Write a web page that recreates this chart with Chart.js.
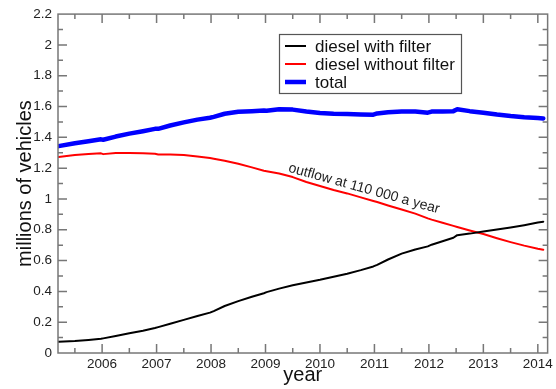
<!DOCTYPE html>
<html>
<head>
<meta charset="utf-8">
<script src="https://cdn.jsdelivr.net/npm/chart.js@4/dist/chart.umd.min.js"></script>
<style>
  html, body { margin: 0; padding: 0; background: #fff; }
  #wrap { width: 556px; height: 389px; }
</style>
</head>
<body>
<div id="wrap"><canvas id="chart" width="556" height="389"></canvas></div>
<script>
// time axis, fractional years
const years = [2005.2, 2005.5, 2005.75, 2005.98, 2006.02, 2006.25, 2006.5, 2006.75, 2006.97, 2007.03,
    2007.25, 2007.5, 2007.75, 2007.98, 2008.05, 2008.25, 2008.5, 2008.75, 2008.97, 2009.02,
    2009.25, 2009.5, 2009.75, 2010.0, 2010.25, 2010.5, 2010.75, 2010.98, 2011.05, 2011.25,
    2011.5, 2011.75, 2011.98, 2012.05, 2012.25, 2012.45, 2012.52, 2012.75, 2013.0, 2013.25,
    2013.5, 2013.75, 2014.0, 2014.1];

const withFilter = [0.073, 0.078, 0.085, 0.092, 0.095, 0.11, 0.128, 0.145, 0.162, 0.168,
    0.19, 0.215, 0.24, 0.262, 0.272, 0.305, 0.337, 0.365, 0.388, 0.395,
    0.418, 0.44, 0.458, 0.475, 0.495, 0.515, 0.538, 0.562, 0.572, 0.607,
    0.645, 0.672, 0.692, 0.703, 0.725, 0.748, 0.765, 0.775, 0.788, 0.802,
    0.815, 0.83, 0.847, 0.852];

const withoutFilter = [1.272, 1.285, 1.292, 1.296, 1.291, 1.298, 1.299, 1.297, 1.293, 1.289,
    1.289, 1.285, 1.276, 1.266, 1.261, 1.248, 1.229, 1.205, 1.183, 1.18,
    1.165, 1.142, 1.11, 1.084, 1.058, 1.036, 1.01, 0.987, 0.98, 0.958,
    0.932, 0.905, 0.874, 0.866, 0.845, 0.825, 0.818, 0.795, 0.772, 0.745,
    0.72, 0.697, 0.677, 0.67];

const total = [1.343, 1.362, 1.375, 1.387, 1.384, 1.405, 1.424, 1.44, 1.455, 1.455,
    1.477, 1.497, 1.515, 1.527, 1.533, 1.553, 1.566, 1.57, 1.574, 1.572,
    1.582, 1.58, 1.568, 1.558, 1.553, 1.552, 1.549, 1.547, 1.555, 1.563,
    1.567, 1.568, 1.56, 1.567, 1.568, 1.57, 1.582, 1.57, 1.56, 1.548,
    1.538, 1.53, 1.525, 1.523];

const xTicks = [2006, 2007, 2008, 2009, 2010, 2011, 2012, 2013, 2014];
const yTicks = [0, 0.2, 0.4, 0.6, 0.8, 1, 1.2, 1.4, 1.6, 1.8, 2, 2.2];

const FONT = '"Liberation Sans", Arial, Helvetica, sans-serif';

function pts(vals) {
    return years.map((yr, i) => ({ x: yr, y: vals[i] }));
}

// frame with inward ticks on all four sides, legend box and the note
const decor = {
    id: 'decor',
    afterDraw(chart) {
        const { ctx, chartArea: a, scales: { x, y } } = chart;
        ctx.save();
        ctx.strokeStyle = '#777';
        ctx.lineWidth = 1.5;
        ctx.strokeRect(a.left, a.top, a.right - a.left, a.bottom - a.top);

        ctx.beginPath();
        const xs = [];
        xTicks.forEach((t) => { xs.push([t, 9]); xs.push([t - 0.5, 5]); });
        xs.push([xTicks[xTicks.length - 1] + 0.5, 5]);
        xs.forEach(([t, len]) => {
            const px = x.getPixelForValue(t);
            if (px <= a.left + 1 || px >= a.right - 1) return;
            ctx.moveTo(px, a.bottom); ctx.lineTo(px, a.bottom - len);
            ctx.moveTo(px, a.top); ctx.lineTo(px, a.top + len);
        });
        yTicks.forEach((t, i) => {
            const list = [[t, 9]];
            if (i > 0) list.push([t - 0.1, 5]);
            list.forEach(([v, len]) => {
                const py = y.getPixelForValue(v);
                if (py >= a.bottom - 1 || py <= a.top + 1) return;
                ctx.moveTo(a.left, py); ctx.lineTo(a.left + len, py);
                ctx.moveTo(a.right, py); ctx.lineTo(a.right - len, py);
            });
        });
        ctx.stroke();

        // legend
        ctx.strokeStyle = '#555';
        ctx.lineWidth = 1.2;
        ctx.strokeRect(279.5, 34.5, 182, 59);
        ctx.font = '17px ' + FONT;
        ctx.fillStyle = '#111';
        ctx.textBaseline = 'alphabetic';
        chart.data.datasets.forEach((ds, i) => {
            const base = 52 + i * 18;
            ctx.strokeStyle = ds.borderColor;
            ctx.lineWidth = ds.borderWidth;
            ctx.beginPath();
            ctx.moveTo(285, base - 6);
            ctx.lineTo(306, base - 6);
            ctx.stroke();
            ctx.fillText(ds.label, 315, base);
        });

        // note along the red line
        ctx.translate(x.getPixelForValue(2010.79), y.getPixelForValue(1.042));
        ctx.rotate(15.5 * Math.PI / 180);
        ctx.font = '14px ' + FONT;
        ctx.fillStyle = '#222';
        ctx.textAlign = 'center';
        ctx.fillText('outflow at 110 000 a year', 0, 0);
        ctx.restore();
    }
};

new Chart(document.getElementById('chart'), {
    type: 'line',
    data: {
        datasets: [
            { label: 'diesel with filter', data: pts(withFilter), borderColor: '#000', borderWidth: 2 },
            { label: 'diesel without filter', data: pts(withoutFilter), borderColor: '#ff0000', borderWidth: 2 },
            { label: 'total', data: pts(total), borderColor: '#0000ff', borderWidth: 4.5 },
        ],
    },
    options: {
        responsive: false,
        animation: false,
        events: [],
        layout: { padding: { top: 10, right: 8, left: 0, bottom: 0 } },
        elements: { point: { radius: 0 }, line: { tension: 0, borderCapStyle: 'round', borderJoinStyle: 'round' } },
        plugins: { legend: { display: false }, tooltip: { enabled: false } },
        scales: {
            x: {
                type: 'linear',
                min: 2005.19,
                max: 2014.18,
                afterBuildTicks: (s) => { s.ticks = xTicks.map((v) => ({ value: v })); },
                afterFit: (s) => { s.height = 36; },
                grid: { display: false, drawTicks: false },
                border: { display: false },
                ticks: {
                    padding: 3,
                    maxRotation: 0,
                    autoSkip: false,
                    color: '#222',
                    font: { family: FONT, size: 13.5 },
                    callback: (v) => String(v),
                },
                title: {
                    display: true,
                    text: 'year',
                    color: '#111',
                    font: { family: FONT, size: 20, lineHeight: 1 },
                    padding: { top: 0, bottom: 4 },
                },
            },
            y: {
                min: 0,
                max: 2.2,
                afterBuildTicks: (s) => { s.ticks = yTicks.map((v) => ({ value: v })); },
                afterFit: (s) => { s.width = 58; },
                grid: { display: false, drawTicks: false },
                border: { display: false },
                ticks: {
                    padding: 6,
                    color: '#222',
                    font: { family: FONT, size: 13.5 },
                    callback: (v) => String(Number(v.toFixed(1))),
                },
                title: {
                    display: true,
                    text: 'millions of vehicles',
                    color: '#111',
                    font: { family: FONT, size: 20, lineHeight: 1 },
                    padding: { top: 15, bottom: 0 },
                },
            },
        },
    },
    plugins: [decor],
});
</script>
</body>
</html>
